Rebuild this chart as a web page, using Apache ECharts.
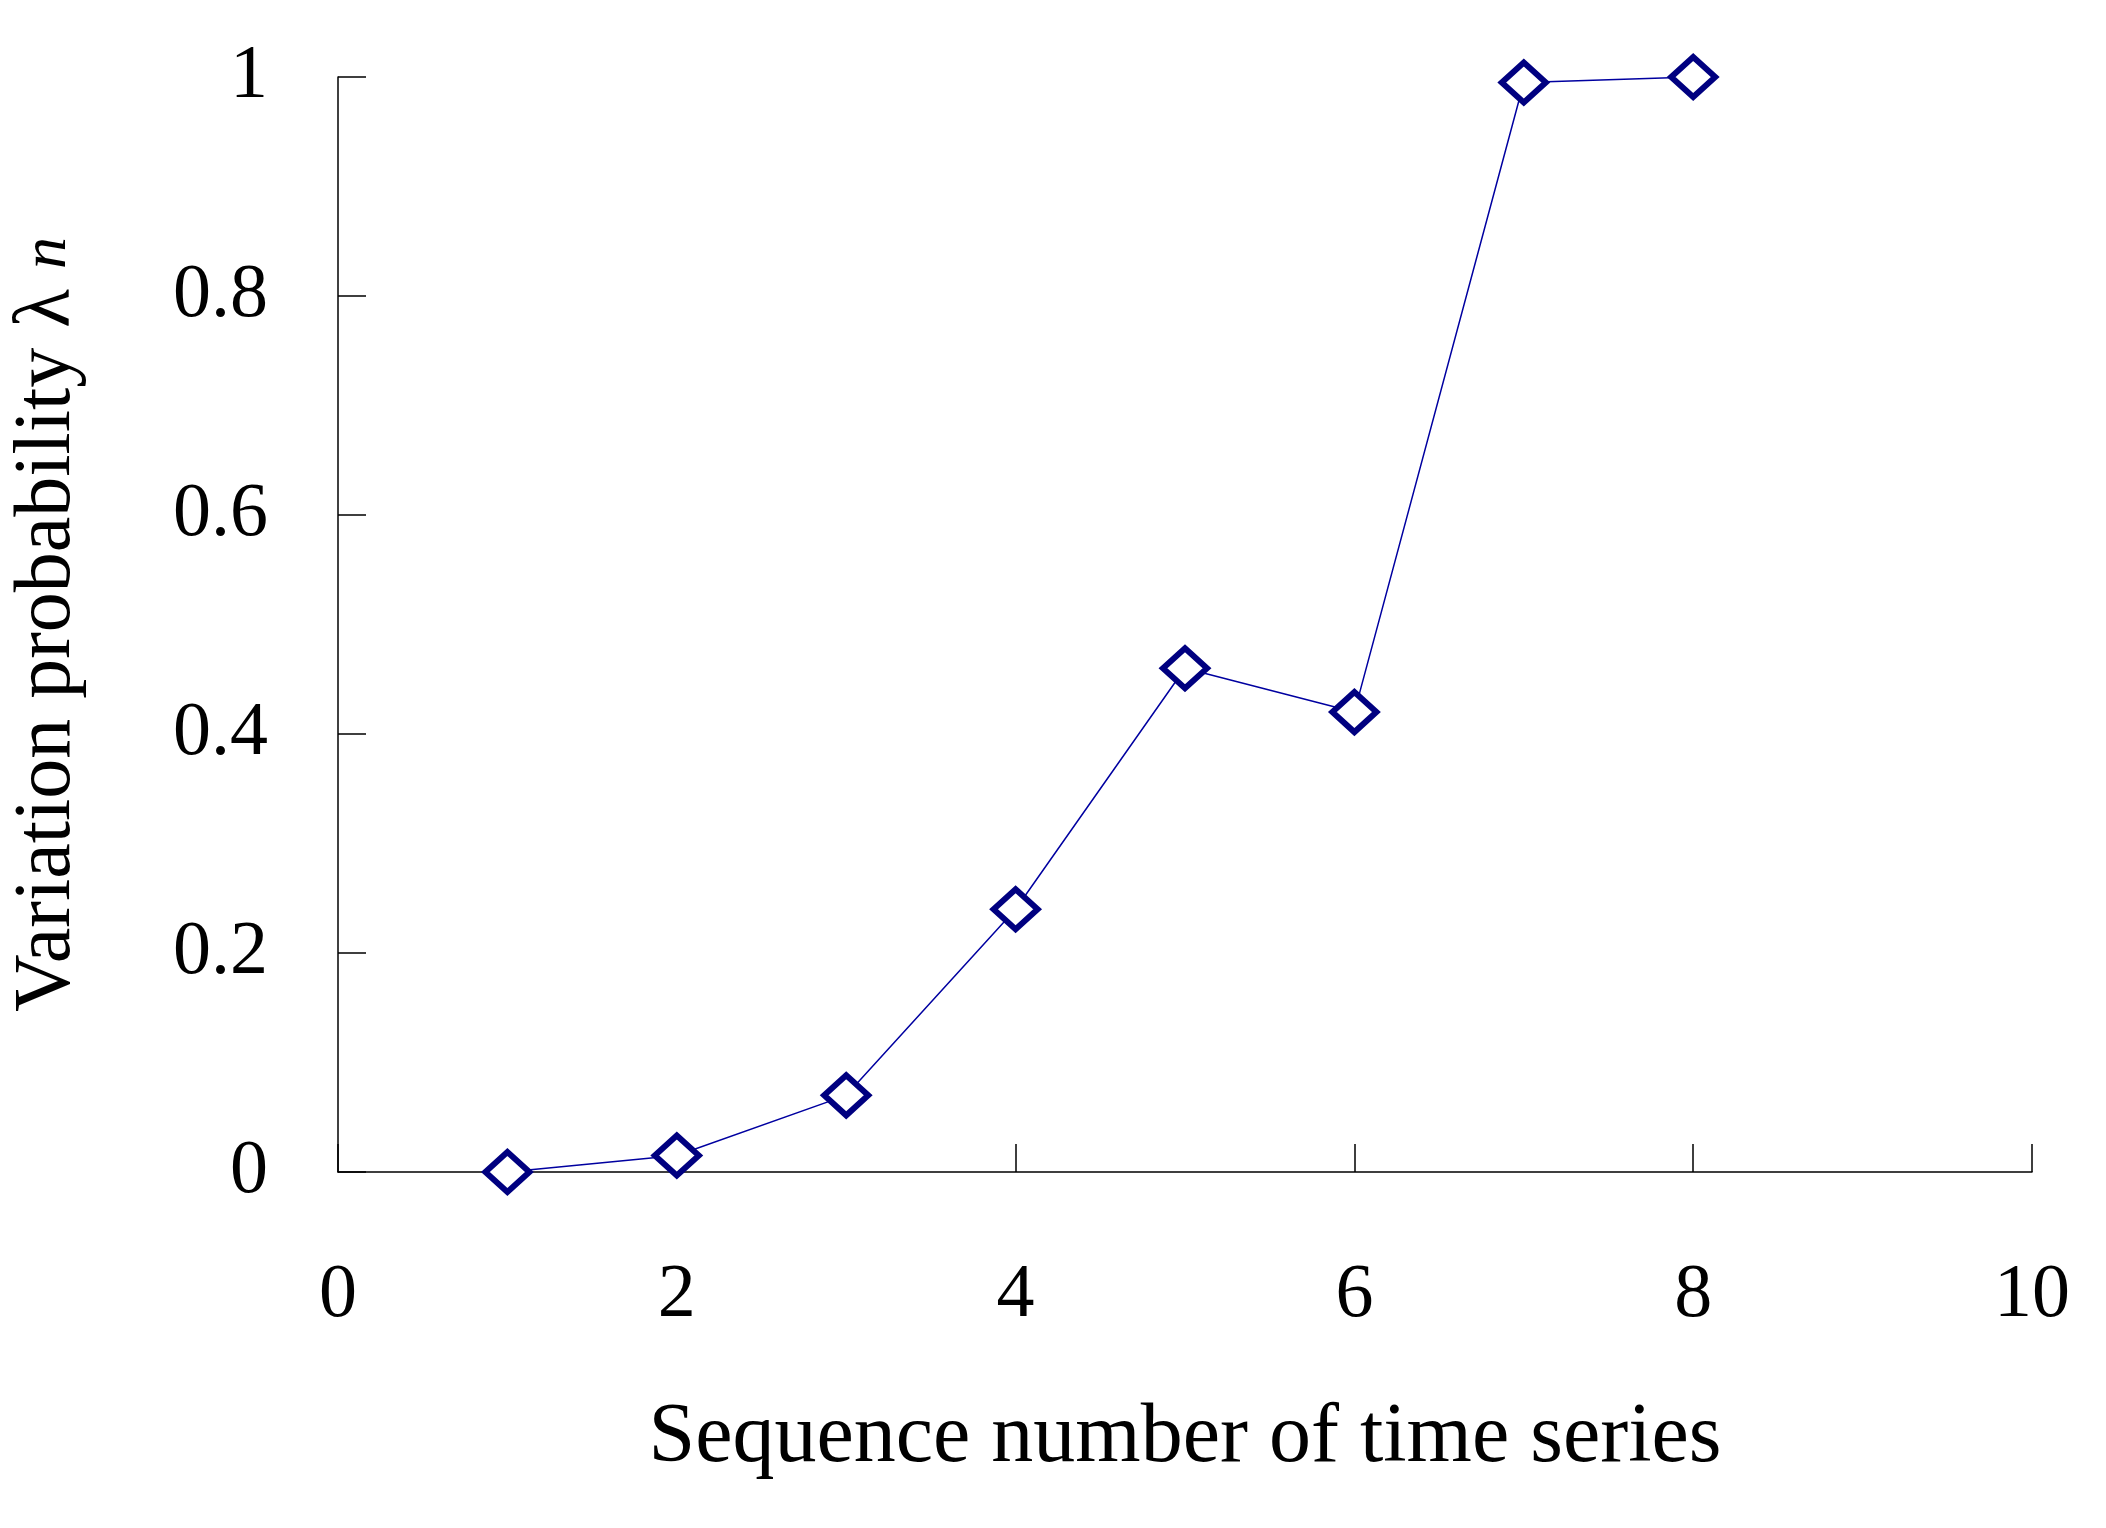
<!DOCTYPE html>
<html>
<head>
<meta charset="utf-8">
<script src="https://cdn.jsdelivr.net/npm/echarts@6/dist/echarts.min.js"></script>
<style>html,body{margin:0;background:#fff}#c{width:2106px;height:1528px}</style>
</head>
<body>
<div id="c"></div>
<script>
const seqNumbers = [1, 2, 3, 4, 5, 6, 7, 8];
const probabilities = [0, 0.015, 0.07, 0.24, 0.46, 0.42, 0.995, 1.0];

const chart = echarts.init(document.getElementById('c'));
const font = '"Liberation Serif", "Times New Roman", serif';
const axisLine = { show: true, lineStyle: { color: '#000', width: 1.5 } };

chart.setOption({
  animation: false,
  grid: { left: 335, right: 74, top: 77, bottom: 356 },
  xAxis: {
    type: 'value', min: 0, max: 10, interval: 2,
    axisLine,
    axisTick: { show: true, inside: true, length: 28, lineStyle: { color: '#000', width: 1.5 } },
    axisLabel: { color: '#000', fontFamily: font, fontSize: 76, margin: 86 },
    splitLine: { show: false },
    name: 'Sequence number of time series', nameLocation: 'middle', nameGap: 225,
    nameTextStyle: { color: '#000', fontFamily: font, fontSize: 84 }
  },
  yAxis: {
    type: 'value', min: 0, max: 1, interval: 0.2,
    axisLine,
    axisTick: { show: true, inside: true, length: 28, lineStyle: { color: '#000', width: 1.5 } },
    axisLabel: { color: '#000', fontFamily: font, fontSize: 76, margin: 70 },
    splitLine: { show: false },
    name: '{a|Variation probability λ }{b|n}', nameLocation: 'middle', nameGap: 250,
    nameTextStyle: {
      color: '#000', fontFamily: font, fontSize: 80,
      rich: {
        a: { fontFamily: font, fontSize: 80, color: '#000' },
        b: { fontFamily: font, fontSize: 64, fontStyle: 'italic', color: '#000' }
      }
    }
  },
  series: [{
    type: 'line',
    data: seqNumbers.map((x, i) => [x, probabilities[i]]),
    symbol: 'diamond', symbolSize: [44, 40],
    lineStyle: { color: '#0000a0', width: 1.5 },
    itemStyle: { color: '#fff', borderColor: '#000080', borderWidth: 6 }
  }]
});
</script>
</body>
</html>
